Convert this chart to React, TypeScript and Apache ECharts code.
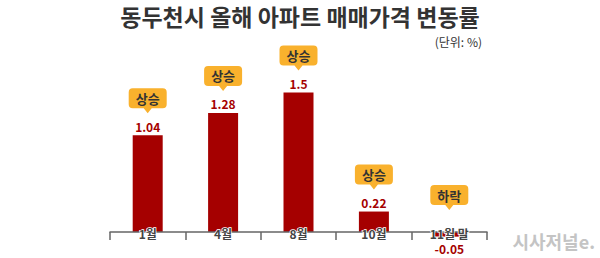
import React, { useEffect, useRef } from "react";
import * as echarts from "echarts";

const categories = ["1월", "4월", "8월", "10월", "11월 말"];
const values = [1.04, 1.28, 1.5, 0.22, -0.05];
const trends = ["상승", "상승", "상승", "상승", "하락"];

const FONT = '"Noto Sans CJK KR", "Noto Sans", sans-serif';
const BAR = "#a50000";
const BUBBLE = "#f9b12d";
const CALLOUT =
  "path://M4,0 H34 Q38,0 38,4 V16 Q38,20 34,20 H23 L19,25 L15,20 H4 Q0,20 0,16 V4 Q0,0 4,0 Z";

export default function App() {
  const ref = useRef<HTMLDivElement>(null);
  useEffect(() => {
    if (!ref.current) return;
    const chart = echarts.init(ref.current, null, { renderer: "svg" });
    chart.setOption({
      animation: false,
      backgroundColor: "#ffffff",
      textStyle: { fontFamily: FONT },
      grid: { left: 110, right: 113, top: 83.2, bottom: 26, containLabel: false },
      xAxis: {
        type: "category",
        data: categories,
        axisLine: { onZero: false, lineStyle: { color: "#666", width: 1.5 } },
        axisTick: { show: true, length: 8, lineStyle: { color: "#666", width: 1.5 } },
        axisLabel: {
          margin: 1,
          verticalAlign: "middle",
          color: "#444",
          fontSize: 12,
          fontWeight: "bold",
          fontFamily: FONT,
          textBorderColor: "#fff",
          textBorderWidth: 1.5,
        },
        z: 10,
      },
      yAxis: {
        type: "value",
        min: 0,
        max: 1.6,
        show: false,
        splitLine: { show: false },
      },
      series: [
        {
          type: "bar",
          clip: false,
          data: values.map((v) =>
            v < 0 ? { value: v, label: { position: "bottom", distance: 6 } } : { value: v }
          ),
          barWidth: 30,
          itemStyle: { color: BAR },
          label: {
            show: true,
            position: "top",
            distance: 3,
            color: BAR,
            fontSize: 12,
            fontWeight: "bold",
            fontFamily: FONT,
            formatter: (p: any) => String(p.value),
          },
          z: 2,
        },
        {
          type: "scatter",
          clip: false,
          data: values.map((v, i) => [i, Math.max(v, 0)]),
          symbol: CALLOUT,
          symbolSize: [38, 25],
          symbolOffset: [0, -34.5],
          itemStyle: { color: BUBBLE, opacity: 1 },
          label: {
            show: true,
            position: "inside",
            offset: [0, -2.5],
            color: "#333",
            fontSize: 13,
            fontWeight: "bold",
            fontFamily: FONT,
            formatter: (p: any) => trends[p.dataIndex],
          },
          silent: true,
          z: 5,
        },
      ],
      graphic: [
        {
          type: "text",
          x: 300,
          y: 16,
          style: {
            text: "동두천시 올해 아파트 매매가격 변동률",
            fontSize: 23,
            fontWeight: "bold",
            fontFamily: FONT,
            fill: "#333",
            align: "center",
            verticalAlign: "middle",
          },
        },
        {
          type: "text",
          x: 482,
          y: 41,
          style: {
            text: "(단위: %)",
            fontSize: 12,
            fontFamily: FONT,
            fill: "#333",
            align: "right",
            verticalAlign: "middle",
          },
        },
        {
          type: "text",
          x: 595,
          y: 241,
          style: {
            text: "시사저널e.",
            fontSize: 18,
            fontWeight: "bold",
            fontFamily: FONT,
            fill: "#c4c4c4",
            align: "right",
            verticalAlign: "middle",
          },
        },
      ],
    });
    return () => chart.dispose();
  }, []);
  return (
    <div
      ref={ref}
      style={{ position: "fixed", left: 0, top: 0, width: 600, height: 258 }}
    />
  );
}
